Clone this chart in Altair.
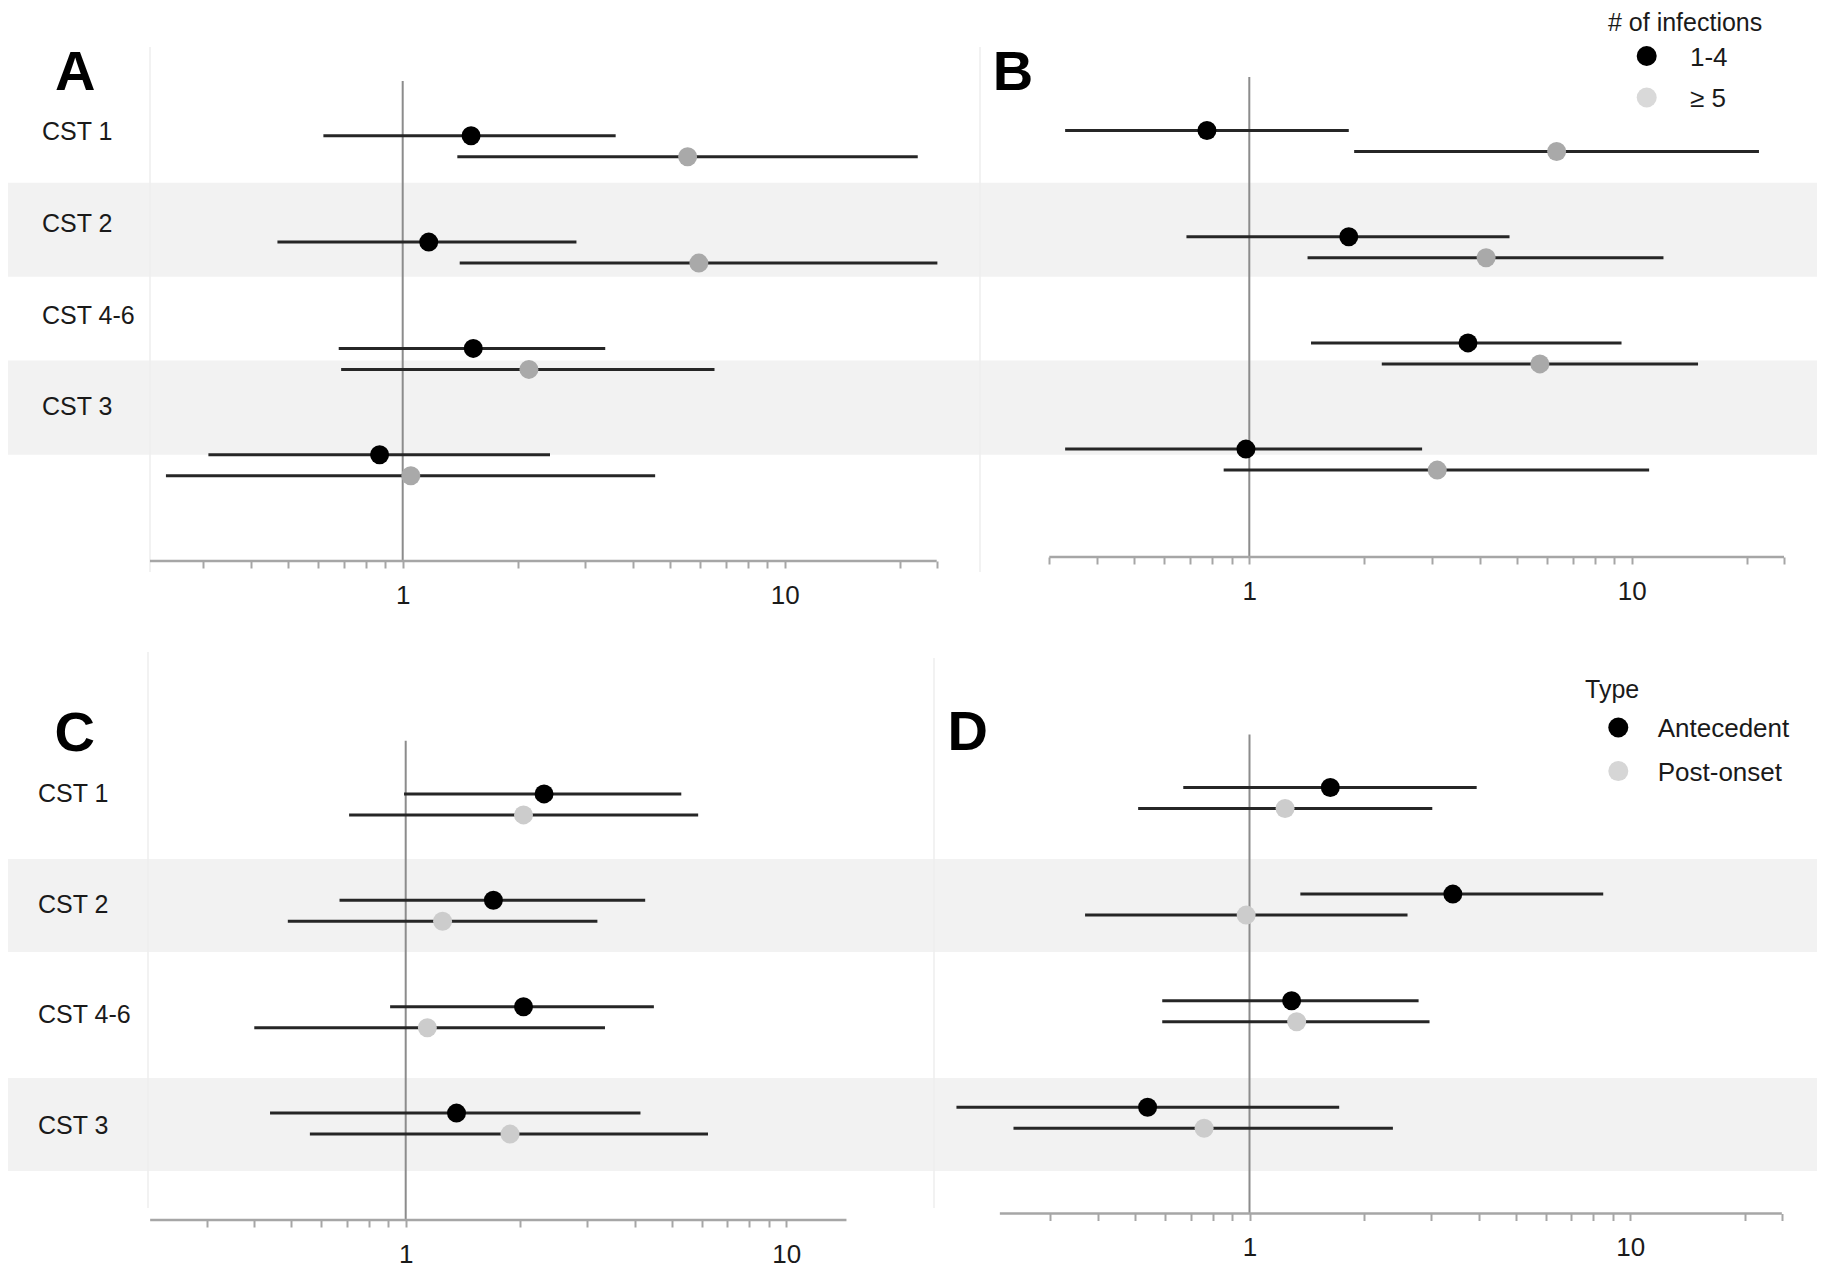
import altair as alt
import pandas as pd

FONT = "Liberation Sans"

# ---------------- data ----------------
rows = ["CST 1", "CST 2", "CST 4-6", "CST 3"]
shaded_rows = ["CST 2", "CST 3"]
infections = ["1-4", "≥ 5"]
types = ["Antecedent", "Post-onset"]

# Panel A  (# of infections)
a_est_14 = [1.51, 1.17, 1.53, 0.87]
a_lo_14 = [0.62, 0.47, 0.68, 0.31]
a_hi_14 = [3.61, 2.85, 3.39, 2.43]
a_est_5 = [5.57, 5.96, 2.14, 1.05]
a_lo_5 = [1.39, 1.41, 0.69, 0.24]
a_hi_5 = [22.3, 25.1, 6.55, 4.58]

# Panel B  (# of infections)
b_est_14 = [0.775, 1.82, 3.73, 0.98]
b_lo_14 = [0.33, 0.685, 1.45, 0.33]
b_hi_14 = [1.82, 4.79, 9.40, 2.83]
b_est_5 = [6.36, 4.16, 5.75, 3.10]
b_lo_5 = [1.88, 1.42, 2.22, 0.857]
b_hi_5 = [21.5, 12.1, 14.9, 11.1]

# Panel C  (type)
c_est_ant = [2.31, 1.70, 2.04, 1.36]
c_lo_ant = [0.99, 0.67, 0.91, 0.44]
c_hi_ant = [5.30, 4.26, 4.49, 4.14]
c_est_post = [2.04, 1.25, 1.14, 1.88]
c_lo_post = [0.71, 0.49, 0.40, 0.56]
c_hi_post = [5.87, 3.19, 3.34, 6.23]

# Panel D  (type)
d_est_ant = [1.63, 3.42, 1.29, 0.54]
d_lo_ant = [0.67, 1.36, 0.59, 0.17]
d_hi_ant = [3.95, 8.49, 2.78, 1.72]
d_est_post = [1.24, 0.98, 1.33, 0.76]
d_lo_post = [0.51, 0.37, 0.59, 0.24]
d_hi_post = [3.02, 2.60, 2.97, 2.38]

tick_values = [0.3, 0.4, 0.5, 0.6, 0.7, 0.8, 0.9, 1, 2, 3, 4, 5, 6, 7, 8, 9, 10, 20]
tick_values_c = [0.3, 0.4, 0.5, 0.6, 0.7, 0.8, 0.9, 1, 2, 3, 4, 5, 6, 7, 8, 9, 10]


def long_df(series, e1, l1, h1, e2, l2, h2):
    recs = []
    for i, r in enumerate(rows):
        recs.append({"row": r, "series": series[0], "est": e1[i], "lo": l1[i], "hi": h1[i]})
        recs.append({"row": r, "series": series[1], "est": e2[i], "lo": l2[i], "hi": h2[i]})
    return pd.DataFrame(recs)


# ---------------- layout helpers ----------------
def band_scale(domain, step, first, pi=0.0):
    """Band scale whose first band is centred at `first` with the given step."""
    n = len(domain)
    bw = step * (1 - pi)
    r0 = first - bw / 2
    r1 = r0 + step * (n - pi)
    return alt.Scale(domain=domain, paddingInner=pi, paddingOuter=0, range=[r0, r1])


def point_scale(domain, step, first):
    n = len(domain)
    return alt.Scale(type="point", domain=domain, padding=0, range=[first, first + step * (n - 1)])


def make_panel(df, series, cfg):
    W, H = cfg["W"], cfg["H"]
    x_lo = 10 ** (-cfg["px_one"] / cfg["decade"])
    x_hi = 10 ** ((W - cfg["px_one"]) / cfg["decade"])
    xs = alt.Scale(type="log", domain=[x_lo, x_hi], nice=False)
    xax = alt.Axis(values=cfg["ticks"],
                   labelExpr="datum.value == 1 || datum.value == 10 ? datum.label : ''",
                   format="~g", title=None, domain=False, grid=False,
                   tickColor="#a6a6a6", tickWidth=2, tickSize=7,
                   labelFont=FONT, labelFontSize=26, labelColor="#1a1a1a",
                   labelPadding=14, labelOverlap=False, labelFlush=False)
    layers = []

    # shaded bands
    bmark = dict(fill="#f2f2f2", clip=True)
    if cfg["band_sw"] > 0:
        bmark.update(stroke="#f2f2f2", strokeWidth=cfg["band_sw"])
    layers.append(
        alt.Chart(pd.DataFrame({"row": shaded_rows})).mark_rect(**bmark).encode(
            y=alt.Y("row:N", axis=None,
                    scale=band_scale(rows, cfg["band_step"], cfg["band_first"], cfg["band_pi"]))
        )
    )
    # faint panel border
    layers.append(
        alt.Chart(pd.DataFrame({"k": [0]})).mark_rule(color="#eeeeee", strokeWidth=1.5).encode(
            x=alt.value(cfg["faint_x"]), y=alt.value(cfg["faint_y"][0]), y2=alt.value(cfg["faint_y"][1])
        )
    )
    # row labels
    if cfg.get("labels"):
        lx, lstep, lfirst = cfg["labels"]
        layers.append(
            alt.Chart(pd.DataFrame({"row": rows})).mark_text(
                font=FONT, fontSize=25, align="left", baseline="middle", dy=1.5, color="#1a1a1a"
            ).encode(
                x=alt.value(lx),
                y=alt.Y("row:N", axis=None, scale=band_scale(rows, lstep, lfirst)),
                text="row:N",
            )
        )
    # reference line at 1
    layers.append(
        alt.Chart(pd.DataFrame({"ref": [1.0]})).mark_rule(color="#8c8c8c", strokeWidth=2).encode(
            x=alt.X("ref:Q", scale=xs, axis=xax), y=alt.value(cfg["ref_top"]), y2=alt.value(H)
        )
    )
    # axis base line
    layers.append(
        alt.Chart(pd.DataFrame({"a": [cfg["ax"][0]], "b": [cfg["ax"][1]]})).mark_rule(
            color="#a6a6a6", strokeWidth=2.5
        ).encode(x=alt.X("a:Q", scale=xs, axis=xax), x2="b:Q", y=alt.value(H))
    )
    # estimates + CIs
    S = cfg["pt_step"]
    yenc = alt.Y("row:N", axis=None, scale=band_scale(rows, S, cfg["pt_first"]))
    yoff = alt.YOffset("series:N", scale=band_scale(series, 21, S / 2 - 10.5))
    errs = alt.Chart(df).mark_rule(color="#262626", strokeWidth=3).encode(
        x=alt.X("lo:Q", scale=xs, axis=xax), x2="hi:Q", y=yenc, yOffset=yoff
    )
    dots = alt.Chart(df).mark_circle(size=360, opacity=1).encode(
        x=alt.X("est:Q", scale=xs, axis=xax), y=yenc, yOffset=yoff,
        color=alt.Color("series:N", scale=alt.Scale(domain=series, range=cfg["colors"]), legend=None),
    )
    layers.append(alt.layer(errs, dots))

    # legend
    if cfg.get("legend"):
        lg = cfg["legend"]
        ldf = pd.DataFrame({"series": series})
        ly = alt.Y("series:N", axis=None, scale=point_scale(series, lg["step"], lg["first"]))
        layers.append(
            alt.Chart(ldf).mark_circle(size=400, opacity=1).encode(
                x=alt.value(lg["sym_x"]), y=ly,
                color=alt.Color("series:N", scale=alt.Scale(domain=series, range=lg["colors"]), legend=None),
            )
        )
        layers.append(
            alt.Chart(ldf).mark_text(font=FONT, fontSize=26, align="left", baseline="middle",
                                     dy=1.5, color="#1a1a1a").encode(
                x=alt.value(lg["txt_x"]), y=ly, text="series:N"
            )
        )
        layers.append(
            alt.Chart(pd.DataFrame({"t": [lg["title"]]})).mark_text(
                font=FONT, fontSize=25, align="left", baseline="middle", dy=1.5, color="#1a1a1a"
            ).encode(x=alt.value(lg["title_xy"][0]), y=alt.value(lg["title_xy"][1]), text="t:N")
        )
    # panel letter
    layers.append(
        alt.Chart(pd.DataFrame({"t": [cfg["letter"]]})).mark_text(
            font=FONT, fontSize=56, fontWeight="bold", align="left", baseline="alphabetic", color="#000000"
        ).encode(x=alt.value(cfg["letter_xy"][0]), y=alt.value(cfg["letter_xy"][1]), text="t:N")
    )

    return alt.layer(*layers).resolve_scale(
        y="independent", yOffset="independent", color="independent"
    ).properties(width=W, height=H)


dfA = long_df(infections, a_est_14, a_lo_14, a_hi_14, a_est_5, a_lo_5, a_hi_5)
dfB = long_df(infections, b_est_14, b_lo_14, b_hi_14, b_est_5, b_lo_5, b_hi_5)
dfC = long_df(types, c_est_ant, c_lo_ant, c_hi_ant, c_est_post, c_lo_post, c_hi_post)
dfD = long_df(types, d_est_ant, d_lo_ant, d_hi_ant, d_est_post, d_lo_post, d_hi_post)

pA = make_panel(dfA, infections, dict(
    W=967, H=553, px_one=394.7, decade=382, ax=[0.218, 25], ticks=tick_values + [25],
    ref_top=73, pt_step=106.3, pt_first=138.3,
    band_step=88.95, band_first=132.8, band_pi=0.0, band_sw=5.2,
    faint_x=142, faint_y=[39, 564], labels=(34, 91.82, 122.5),
    colors=["#000000", "#a9a9a9"], letter="A", letter_xy=(47, 82)))

pB = make_panel(dfB, infections, dict(
    W=842, H=549, px_one=274.3, decade=382.5, ax=[0.3, 25], ticks=tick_values + [25],
    ref_top=69, pt_step=106.2, pt_first=133,
    band_step=88.95, band_first=132.8, band_pi=0.0, band_sw=5.2,
    faint_x=5, faint_y=[39, 564],
    colors=["#000000", "#a9a9a9"], letter="B", letter_xy=(17.7, 82),
    legend=dict(title="# of infections", title_xy=(633, 13), sym_x=671.7, txt_x=715,
                step=41.5, first=48, colors=["#000000", "#d9d9d9"])))

pC = make_panel(dfC, types, dict(
    W=967, H=659, px_one=397.7, decade=380.5, ax=[0.213, 14.4], ticks=tick_values_c,
    ref_top=179.7, pt_step=106.4, pt_first=243.4,
    band_step=109.45, band_first=235.15, band_pi=0.15, band_sw=0,
    faint_x=140, faint_y=[91, 647], labels=(30, 110.46, 231.71),
    colors=["#000000", "#cccccc"], letter="C", letter_xy=(46.6, 189.7)))

pD = make_panel(dfD, types, dict(
    W=842, H=652.5, px_one=274.5, decade=380.8, ax=[0.221, 25], ticks=tick_values + [25],
    ref_top=173.6, pt_step=106.6, pt_first=237,
    band_step=109.45, band_first=235.15, band_pi=0.15, band_sw=0,
    faint_x=-41, faint_y=[97, 647],
    colors=["#000000", "#cccccc"], letter="D", letter_xy=(-27.6, 189),
    legend=dict(title="Type", title_xy=(610, 127.5), sym_x=643.3, txt_x=682.7,
                step=43.6, first=166.5, colors=["#000000", "#d6d6d6"])))

chart = (
    alt.concat(pA, pB, pC, pD, columns=2, spacing=0, bounds="flush")
    .properties(padding=0, background="white")
    .configure(font=FONT)
    .configure_view(stroke="transparent", strokeWidth=0, strokeOpacity=0)
)

chart.save("out.html", embed_options={"renderer": "svg", "actions": False})
